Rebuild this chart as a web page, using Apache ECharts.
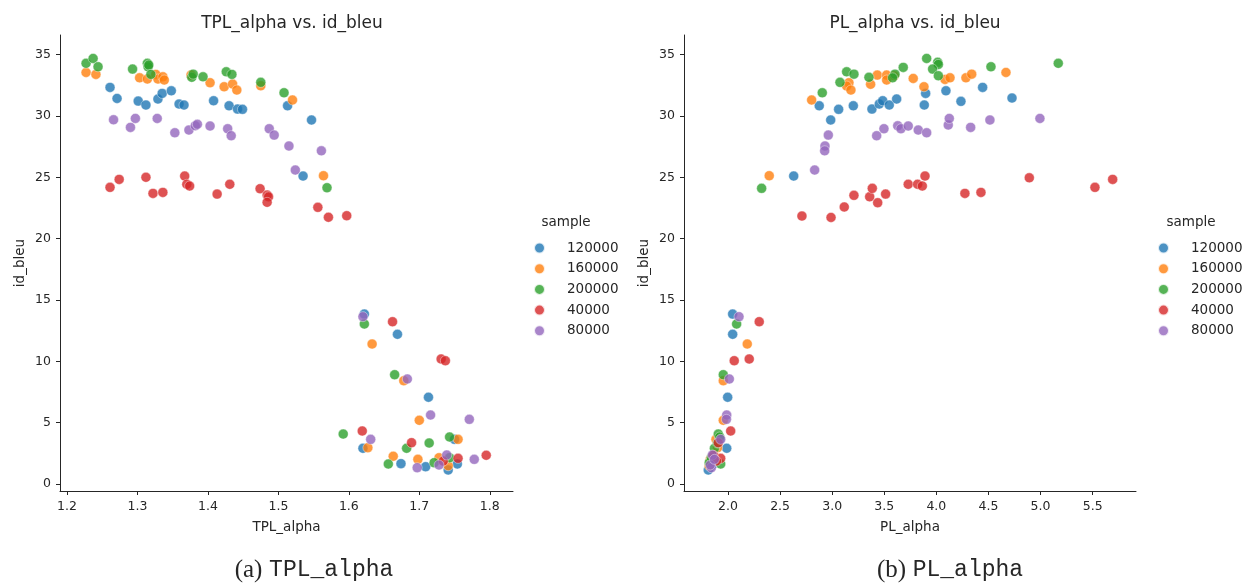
<!DOCTYPE html>
<html>
<head>
    <meta charset="utf-8" />
    <title>TPL_alpha / PL_alpha vs. id_bleu</title>
    <style>
        html, body { margin: 0; padding: 0; background: #fff; }
        #divChart { width: 1247px; height: 588px; }
    </style>
</head>
<body>
    <div id="divChart"></div>
    <script src="https://cdn.jsdelivr.net/npm/echarts@6/dist/echarts.min.js"></script>
    <script>
        // legend order (hue levels)
        var samples = ['120000', '160000', '200000', '40000', '80000'];
        var colors = ['#1f77b4', '#ff7f0e', '#2ca02c', '#d62728', '#9467bd'];

        // left panel: [TPL_alpha, id_bleu]
        var tpl120000 = [[1.261,32.33],[1.271,31.43],[1.301,31.21],[1.312,30.89],[1.329,31.38],[1.335,31.84],[1.348,32.05],[1.359,30.97],[1.366,30.89],[1.408,31.24],[1.430,30.83],[1.442,30.56],[1.449,30.54],[1.513,30.83],[1.547,29.67],[1.535,25.10],[1.622,13.85],[1.669,12.20],[1.713,7.07],[1.750,3.64],[1.620,2.91],[1.674,1.66],[1.709,1.41],[1.741,1.14],[1.754,1.63]];
        var tpl160000 = [[1.227,33.55],[1.241,33.39],[1.303,33.11],[1.314,33.01],[1.326,33.39],[1.329,33.01],[1.336,33.19],[1.338,32.93],[1.376,33.33],[1.403,32.71],[1.423,32.38],[1.435,32.60],[1.441,32.11],[1.475,32.46],[1.520,31.30],[1.564,25.13],[1.633,11.41],[1.678,8.42],[1.700,5.19],[1.755,3.64],[1.627,2.96],[1.663,2.26],[1.698,2.01],[1.728,2.14],[1.741,1.49]];
        var tpl200000 = [[1.227,34.29],[1.237,34.69],[1.244,34.01],[1.293,33.82],[1.314,34.29],[1.315,34.01],[1.316,34.15],[1.319,33.39],[1.377,33.15],[1.379,33.41],[1.393,33.19],[1.426,33.60],[1.434,33.39],[1.475,32.74],[1.508,31.89],[1.569,24.15],[1.622,13.04],[1.665,8.91],[1.592,4.07],[1.682,2.91],[1.714,3.34],[1.743,3.83],[1.656,1.63],[1.721,1.74],[1.743,2.14]];
        var tpl40000 = [[1.261,24.18],[1.274,24.83],[1.312,25.00],[1.322,23.69],[1.336,23.77],[1.367,25.10],[1.370,24.43],[1.374,24.29],[1.413,23.63],[1.431,24.43],[1.474,24.07],[1.484,23.55],[1.486,23.41],[1.484,22.96],[1.556,22.55],[1.571,21.74],[1.597,21.87],[1.662,13.23],[1.731,10.19],[1.737,10.05],[1.619,4.32],[1.689,3.37],[1.755,2.09],[1.795,2.34],[1.734,1.87]];
        var tpl80000 = [[1.266,29.69],[1.297,29.80],[1.290,29.07],[1.328,29.80],[1.353,28.63],[1.373,28.85],[1.382,29.20],[1.385,29.32],[1.403,29.18],[1.428,28.96],[1.433,28.39],[1.487,28.96],[1.494,28.44],[1.515,27.55],[1.524,25.59],[1.561,27.16],[1.620,13.64],[1.683,8.56],[1.716,5.62],[1.771,5.27],[1.631,3.64],[1.697,1.33],[1.728,1.55],[1.739,2.36],[1.778,2.01]];

        // right panel: [PL_alpha, id_bleu]
        var pl120000 = [[2.876,30.83],[3.062,30.54],[3.203,30.83],[3.382,30.56],[3.452,30.97],[2.986,29.67],[2.631,25.10],[3.485,31.24],[3.548,30.89],[3.619,31.38],[3.897,31.84],[3.884,30.89],[4.092,32.05],[4.236,31.19],[4.444,32.33],[4.726,31.46],[2.045,13.85],[2.045,12.20],[1.997,7.07],[1.920,3.64],[1.988,2.91],[1.840,1.66],[1.830,1.41],[1.811,1.14],[1.860,1.63]];
        var pl160000 = [[3.161,32.71],[3.139,32.44],[3.180,32.11],[3.369,32.58],[3.433,33.33],[2.803,31.30],[2.396,25.13],[3.523,33.33],[3.523,32.93],[3.596,33.28],[3.778,33.06],[3.881,32.38],[4.083,32.98],[4.131,33.11],[4.284,33.11],[4.339,33.41],[4.668,33.55],[2.185,11.41],[1.955,8.42],[1.955,5.19],[1.885,3.64],[1.900,2.96],[1.870,2.26],[1.830,2.01],[1.850,2.14],[1.820,1.49]];
        var pl200000 = [[3.139,33.60],[3.209,33.41],[3.075,32.74],[2.905,31.89],[3.353,33.15],[2.323,24.10],[3.907,34.69],[4.013,34.37],[4.019,34.20],[3.964,33.82],[4.019,33.28],[3.682,33.96],[3.603,33.41],[3.580,33.11],[4.524,34.01],[5.170,34.29],[2.083,13.04],[1.955,8.91],[1.907,4.07],[1.870,2.91],[1.900,3.34],[1.920,3.83],[1.930,1.63],[1.820,1.74],[1.840,2.14]];
        var pl40000 = [[2.710,21.84],[2.989,21.73],[3.116,22.58],[3.209,23.53],[3.360,23.41],[3.385,24.10],[3.437,22.93],[3.513,23.63],[3.730,24.43],[3.820,24.43],[3.865,24.29],[3.891,25.10],[4.274,23.69],[4.428,23.77],[4.892,24.96],[5.522,24.18],[5.692,24.83],[2.300,13.23],[2.204,10.19],[2.060,10.05],[2.026,4.32],[1.907,3.37],[1.930,2.09],[1.860,2.34],[1.890,1.87]];
        var pl80000 = [[2.963,28.44],[2.931,27.55],[2.928,27.16],[2.832,25.59],[3.427,28.39],[3.497,28.96],[3.629,29.20],[3.660,28.96],[3.730,29.18],[3.826,28.85],[3.907,28.63],[4.114,29.26],[4.124,29.80],[4.329,29.07],[4.514,29.67],[4.994,29.80],[2.106,13.64],[2.013,8.56],[1.988,5.62],[1.985,5.27],[1.930,3.64],[1.840,1.33],[1.830,1.55],[1.850,2.36],[1.870,2.01]];

        // tick labels
        var tplTicks = [1.2, 1.3, 1.4, 1.5, 1.6, 1.7, 1.8];
        var plTicks = [2.0, 2.5, 3.0, 3.5, 4.0, 4.5, 5.0, 5.5];
        var bleuTicks = [0, 5, 10, 15, 20, 25, 30, 35];

        var tplData = [tpl120000, tpl160000, tpl200000, tpl40000, tpl80000];
        var plData = [pl120000, pl160000, pl200000, pl40000, pl80000];

        var font = 'DejaVu Sans';
        var ink = '#262626';

        function xAxisOf(grid, name, min, max, ticks) {
            return {
                type: 'value', gridIndex: grid, min: min, max: max,
                name: name, nameLocation: 'middle', nameGap: 29,
                nameTextStyle: { fontFamily: font, fontSize: 13.5, color: ink },
                splitLine: { show: false },
                axisLine: { show: true, onZero: false, lineStyle: { color: ink, width: 1 } },
                axisTick: { show: true, length: 4, customValues: ticks, lineStyle: { color: ink } },
                axisLabel: {
                    customValues: ticks, margin: 9, fontFamily: font, fontSize: 12.5, color: ink,
                    formatter: function (v) { return v.toFixed(1); }
                }
            };
        }
        function yAxisOf(grid) {
            return {
                type: 'value', gridIndex: grid, min: -0.57, max: 36.6,
                name: 'id_bleu', nameLocation: 'middle', nameGap: 33,
                nameTextStyle: { fontFamily: font, fontSize: 13.5, color: ink },
                splitLine: { show: false },
                axisLine: { show: true, onZero: false, lineStyle: { color: ink, width: 1 } },
                axisTick: { show: true, length: 4, customValues: bleuTicks, lineStyle: { color: ink } },
                axisLabel: { customValues: bleuTicks, margin: 9, fontFamily: font, fontSize: 12.5, color: ink }
            };
        }

        var series = [];
        samples.forEach(function (s, i) {
            series.push({
                name: s, type: 'scatter', xAxisIndex: 0, yAxisIndex: 0,
                symbolSize: 10, data: tplData[i],
                itemStyle: { color: colors[i], opacity: 0.8, borderColor: '#fff', borderWidth: 0.5 }
            });
        });
        samples.forEach(function (s, i) {
            series.push({
                name: s, type: 'scatter', xAxisIndex: 1, yAxisIndex: 1,
                symbolSize: 10, data: plData[i],
                itemStyle: { color: colors[i], opacity: 0.8, borderColor: '#fff', borderWidth: 0.5 }
            });
        });

        function legendAt(left) {
            return {
                orient: 'vertical', left: left, top: 236, data: samples,
                icon: 'circle', itemWidth: 11, itemHeight: 11, itemGap: 6.7,
                selectedMode: false,
                textStyle: { fontFamily: font, fontSize: 13.5, color: ink, lineHeight: 14, padding: [0, 0, 0, 17] }
            };
        }

        var myChart = echarts.init(document.getElementById('divChart'), null, { renderer: 'canvas' });
        var option = {
            animation: false,
            color: colors,
            grid: [
                { left: 60, right: 734, top: 35, bottom: 97 },
                { left: 684, right: 111, top: 35, bottom: 97 }
            ],
            title: [
                { text: 'TPL_alpha vs. id_bleu', left: 287, top: 10, textAlign: 'center',
                  textStyle: { fontFamily: font, fontSize: 17, fontWeight: 'normal', color: ink } },
                { text: 'PL_alpha vs. id_bleu', left: 910, top: 10, textAlign: 'center',
                  textStyle: { fontFamily: font, fontSize: 17, fontWeight: 'normal', color: ink } }
            ],
            legend: [legendAt(528), legendAt(1152)],
            xAxis: [
                xAxisOf(0, 'TPL_alpha', 1.19, 1.833, tplTicks),
                xAxisOf(1, 'PL_alpha', 1.578, 5.916, plTicks)
            ],
            yAxis: [yAxisOf(0), yAxisOf(1)],
            graphic: [
                { type: 'text', x: 566, y: 222,
                  style: { text: 'sample', font: '13.5px "DejaVu Sans"', fill: ink, align: 'center', verticalAlign: 'middle' } },
                { type: 'text', x: 1191, y: 222,
                  style: { text: 'sample', font: '13.5px "DejaVu Sans"', fill: ink, align: 'center', verticalAlign: 'middle' } },
                { type: 'text', x: 314, y: 570,
                  style: {
                      text: '{a|(a)}  {b|TPL_alpha}', align: 'center', verticalAlign: 'middle', fill: ink,
                      rich: {
                          a: { fontFamily: 'Liberation Serif', fontSize: 25, fill: ink },
                          b: { fontFamily: 'Liberation Mono', fontSize: 23, fill: ink }
                      }
                  } },
                { type: 'text', x: 950, y: 570,
                  style: {
                      text: '{a|(b)}  {b|PL_alpha}', align: 'center', verticalAlign: 'middle', fill: ink,
                      rich: {
                          a: { fontFamily: 'Liberation Serif', fontSize: 25, fill: ink },
                          b: { fontFamily: 'Liberation Mono', fontSize: 23, fill: ink }
                      }
                  } }
            ],
            series: series
        };
        myChart.setOption(option);
    </script>
</body>
</html>
